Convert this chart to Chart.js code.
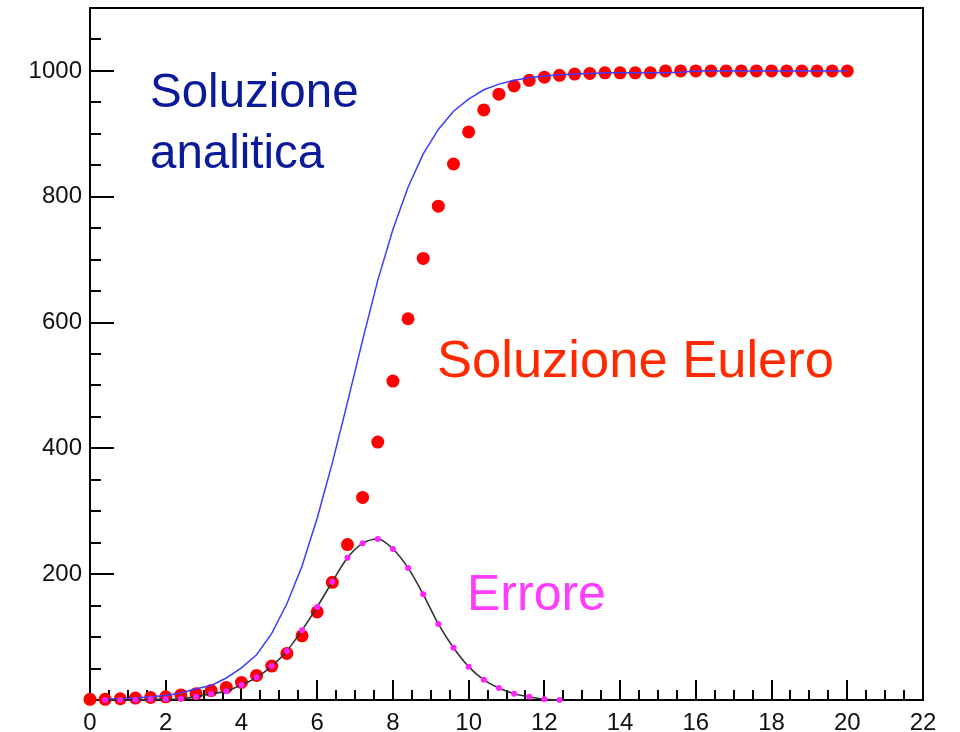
<!DOCTYPE html>
<html>
<head>
<meta charset="utf-8">
<script src="https://cdn.jsdelivr.net/npm/chart.js@4/dist/chart.umd.min.js"></script>
<style>
  body { margin: 0; background: #fff; }
  #wrap { width: 960px; height: 732px; }
</style>
</head>
<body>
<div id="wrap"><canvas id="logistic" width="960" height="732"></canvas></div>
<script>
// tempi di integrazione (passo 0.4)
var times = [0, 0.4, 0.8, 1.2, 1.6, 2, 2.4, 2.8, 3.2, 3.6, 4, 4.4, 4.8, 5.2, 5.6, 6, 6.4, 6.8,
    7.2, 7.6, 8, 8.4, 8.8, 9.2, 9.6, 10, 10.4, 10.8, 11.2, 11.6, 12, 12.4, 12.8, 13.2, 13.6,
    14, 14.4, 14.8, 15.2, 15.6, 16, 16.4, 16.8, 17.2, 17.6, 18, 18.4, 18.8, 19.2, 19.6, 20];

// soluzione con il metodo di Eulero (punti rossi), da t=0
var euler = [1, 1, 2, 3, 4, 5, 8, 10, 15, 20, 28, 39, 54, 74, 102, 140, 187, 247, 322, 410,
    507, 606, 702, 785, 852, 903, 938, 963, 976, 985, 990, 993, 995, 996, 997, 997, 997, 997,
    1000, 1000, 1000, 1000, 1000, 1000, 1000, 1000, 1000, 1000, 1000, 1000, 1000];

// soluzione analitica (linea blu), da t=0.4
var analytic = [1, 2, 3, 5, 7, 11, 18, 23, 35, 51, 72, 106, 153, 213, 289, 377, 473, 572, 667,
    748, 815, 868, 907, 936, 955, 970, 979, 985, 989, 992, 994, 995, 996, 997, 997, 997, 997,
    997, 998, 1000, 1000, 1000, 1000, 1000, 1000, 1000, 1000, 1000, 1000, 1000];

// errore = analitica - Eulero, da t=0.4 a t=12.4
var errore = [0, 0, 0, 1, 1, 2, 5, 10, 14, 24, 36, 54, 78, 111, 148, 188, 226, 249, 256, 240,
    210, 168, 121, 83, 53, 32, 19, 10, 5, 1, 0];

var xTicks = [0, 2, 4, 6, 8, 10, 12, 14, 16, 18, 20, 22];
var yTicks = [200, 400, 600, 800, 1000];

function toPoints(ts, vals) {
    var pts = [];
    for (var i = 0; i < vals.length; i++) {
        pts.push({ x: ts[i], y: vals[i] });
    }
    return pts;
}

var FONT = "'Liberation Sans', Arial, Helvetica, sans-serif";

// cornice e tacche stile ROOT (verso l'interno)
var frameTicks = {
    id: 'frameTicks',
    beforeDatasetsDraw: function (chart) {
        var ctx = chart.ctx;
        var a = chart.chartArea;
        var xs = chart.scales.x, ys = chart.scales.y;
        ctx.save();
        ctx.strokeStyle = '#000';
        ctx.lineWidth = 2;
        ctx.strokeRect(a.left, a.top, a.right - a.left, a.bottom - a.top);
        ctx.beginPath();
        var v, px, len;
        for (v = 0; v <= 22.001; v += 0.5) {
            px = Math.round(xs.getPixelForValue(v));
            len = (Math.abs(v / 2 - Math.round(v / 2)) < 1e-6) ? 20 : 10;
            ctx.moveTo(px, a.bottom);
            ctx.lineTo(px, a.bottom - len);
        }
        for (v = 0; v <= 1050; v += 50) {
            px = Math.round(ys.getPixelForValue(v));
            len = (v % 200 === 0) ? 24 : 11;
            ctx.moveTo(a.left, px);
            ctx.lineTo(a.left + len, px);
        }
        ctx.stroke();
        ctx.restore();
    },
    afterDraw: function (chart) {
        var ctx = chart.ctx;
        ctx.save();
        ctx.textBaseline = 'alphabetic';
        ctx.textAlign = 'left';
        ctx.fillStyle = '#0a1a99';
        ctx.font = '47.5px ' + FONT;
        ctx.fillText('Soluzione', 150, 107);
        ctx.fillText('analitica', 150, 168);
        ctx.fillStyle = '#ff2a00';
        ctx.font = '52.5px ' + FONT;
        ctx.fillText('Soluzione Eulero', 437, 377);
        ctx.fillStyle = '#ff3cff';
        ctx.font = '50px ' + FONT;
        ctx.fillText('Errore', 467, 610);
        ctx.restore();
    }
};

var ctx = document.getElementById('logistic').getContext('2d');
var chart = new Chart(ctx, {
    type: 'scatter',
    data: {
        datasets: [{
            label: 'Errore',
            data: toPoints(times.slice(1), errore),
            showLine: true,
            borderColor: '#333333',
            borderWidth: 1.6,
            cubicInterpolationMode: 'monotone',
            pointRadius: 3,
            pointBackgroundColor: '#ff22ff',
            pointBorderWidth: 0,
            clip: false
        }, {
            label: 'Soluzione analitica',
            data: toPoints(times.slice(1), analytic),
            showLine: true,
            borderColor: 'rgb(60, 60, 255)',
            borderWidth: 1.5,
            pointRadius: 0,
            clip: false
        }, {
            label: 'Soluzione Eulero',
            data: toPoints(times, euler),
            showLine: false,
            pointRadius: 6.5,
            pointBackgroundColor: '#ff0000',
            pointBorderWidth: 0,
            clip: false
        }]
    },
    options: {
        responsive: false,
        animation: false,
        layout: {
            padding: { top: 8, right: 37, left: 0, bottom: 0 }
        },
        scales: {
            x: {
                type: 'linear',
                min: 0,
                max: 22,
                afterFit: function (s) {
                    s.height = 32;
                    s.paddingLeft = 0;
                    s.paddingRight = 0;
                },
                afterBuildTicks: function (s) {
                    s.ticks = xTicks.map(function (v) { return { value: v }; });
                },
                grid: { display: false, drawTicks: false },
                border: { display: false },
                ticks: {
                    autoSkip: false,
                    maxRotation: 0,
                    padding: 9,
                    color: '#111',
                    font: { family: FONT, size: 24 },
                    callback: function (v) { return String(v); }
                }
            },
            y: {
                min: 0,
                max: 1100,
                afterFit: function (s) {
                    s.width = 90;
                    s.paddingTop = 0;
                    s.paddingBottom = 0;
                },
                afterBuildTicks: function (s) {
                    s.ticks = yTicks.map(function (v) { return { value: v }; });
                },
                grid: { display: false, drawTicks: false },
                border: { display: false },
                ticks: {
                    autoSkip: false,
                    padding: 8,
                    color: '#111',
                    font: { family: FONT, size: 24 },
                    callback: function (v) { return String(v); }
                }
            }
        },
        plugins: {
            legend: { display: false },
            tooltip: { enabled: false }
        }
    },
    plugins: [frameTicks]
});
</script>
</body>
</html>
